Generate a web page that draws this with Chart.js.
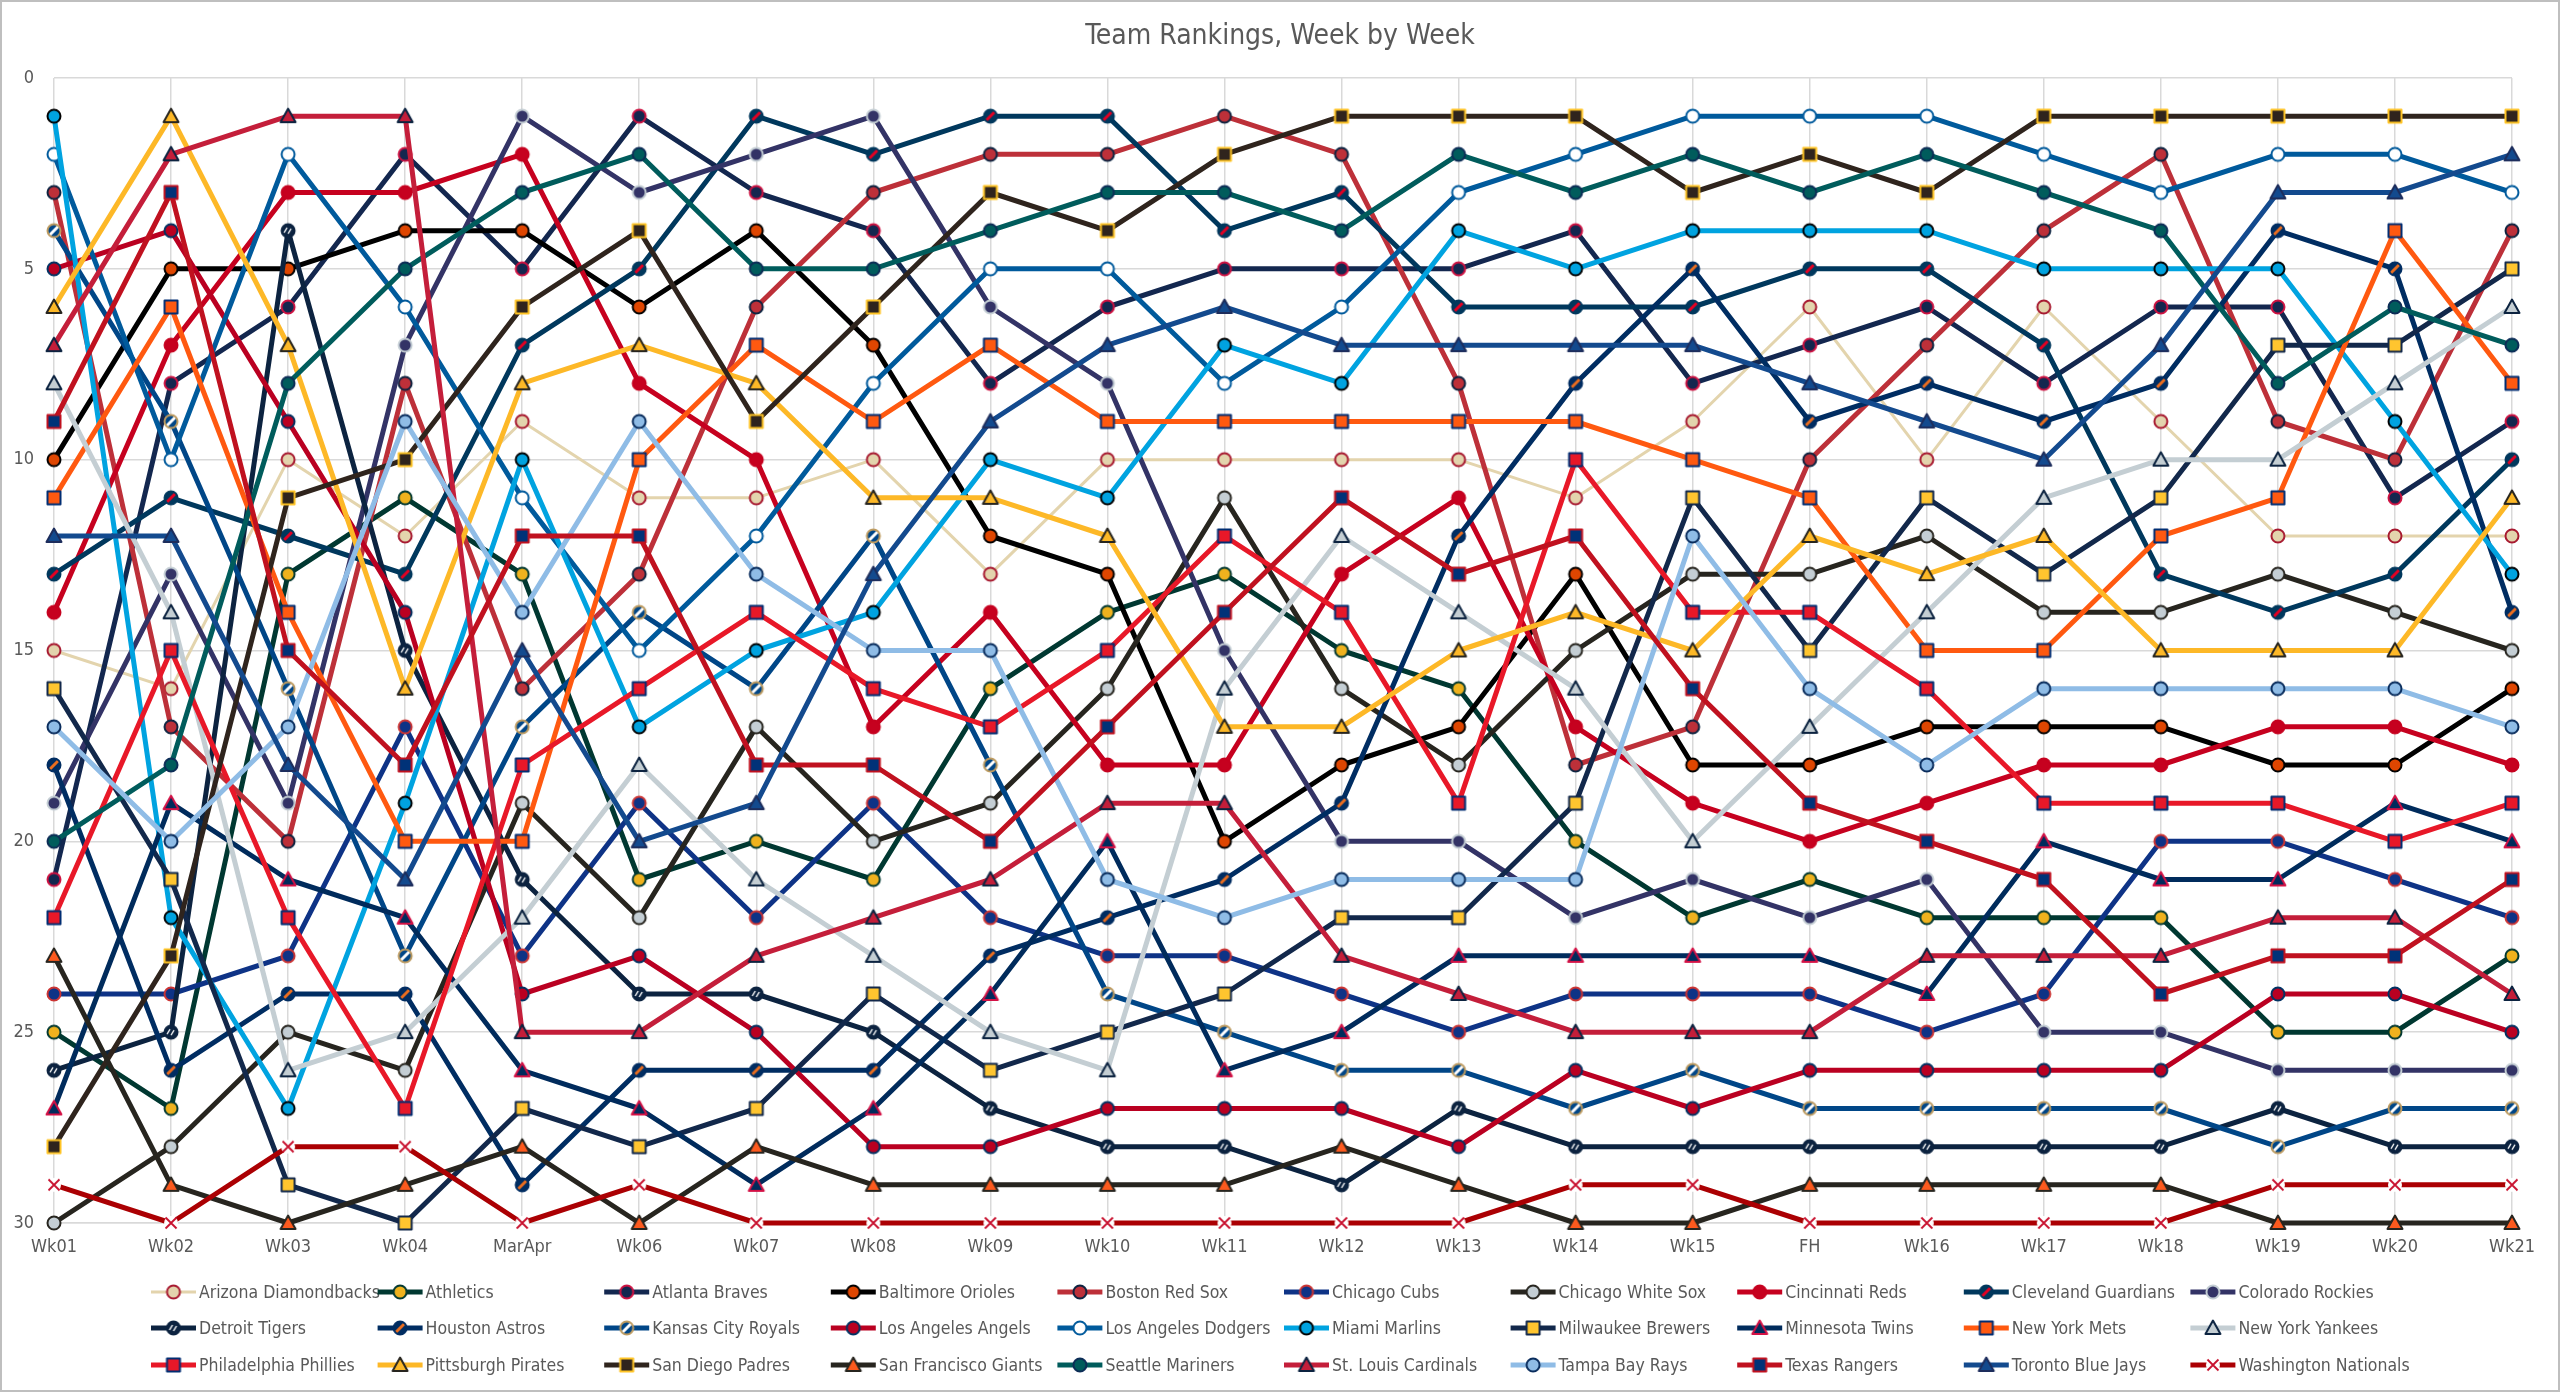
<!DOCTYPE html>
<html>
<head>
<meta charset="utf-8">
<script src="https://cdn.jsdelivr.net/npm/chart.js@4.4.1/dist/chart.umd.min.js"></script>
<style>
html,body{margin:0;padding:0;background:#ffffff;}
canvas{display:block;}
</style>
</head>
<body>
<canvas id="c" width="2560" height="1392"></canvas>
<script>
// ---------- DATA ----------
const weekLabels = ["Wk01","Wk02","Wk03","Wk04","MarApr","Wk06","Wk07","Wk08","Wk09","Wk10","Wk11","Wk12","Wk13","Wk14","Wk15","FH","Wk16","Wk17","Wk18","Wk19","Wk20","Wk21"];
const yTicks = [0,5,10,15,20,25,30];

const teamNames = ["Arizona Diamondbacks","Athletics","Atlanta Braves","Baltimore Orioles","Boston Red Sox","Chicago Cubs","Chicago White Sox","Cincinnati Reds","Cleveland Guardians","Colorado Rockies","Detroit Tigers","Houston Astros","Kansas City Royals","Los Angeles Angels","Los Angeles Dodgers","Miami Marlins","Milwaukee Brewers","Minnesota Twins","New York Mets","New York Yankees","Philadelphia Phillies","Pittsburgh Pirates","San Diego Padres","San Francisco Giants","Seattle Mariners","St. Louis Cardinals","Tampa Bay Rays","Texas Rangers","Toronto Blue Jays","Washington Nationals"];

const arizonaDiamondbacks = [15,16,10,12,9,11,11,10,13,10,10,10,10,11,9,6,10,6,9,12,12,12];
const athletics           = [25,27,13,11,13,21,20,21,16,14,13,15,16,20,22,21,22,22,22,25,25,23];
const atlantaBraves       = [21,8,6,2,5,1,3,4,8,6,5,5,5,4,8,7,6,8,6,6,11,9];
const baltimoreOrioles    = [10,5,5,4,4,6,4,7,12,13,20,18,17,13,18,18,17,17,17,18,18,16];
const bostonRedSox        = [3,17,20,8,16,13,6,3,2,2,1,2,8,18,17,10,7,4,2,9,10,4];
const chicagoCubs         = [24,24,23,17,23,19,22,19,22,23,23,24,25,24,24,24,25,24,20,20,21,22];
const chicagoWhiteSox     = [30,28,25,26,19,22,17,20,19,16,11,16,18,15,13,13,12,14,14,13,14,15];
const cincinnatiReds      = [14,7,3,3,2,8,10,17,14,18,18,13,11,17,19,20,19,18,18,17,17,18];
const clevelandGuardians  = [13,11,12,13,7,5,1,2,1,1,4,3,6,6,6,5,5,7,13,14,13,10];
const coloradoRockies     = [19,13,19,7,1,3,2,1,6,8,15,20,20,22,21,22,21,25,25,26,26,26];
const detroitTigers       = [26,25,4,15,21,24,24,25,27,28,28,29,27,28,28,28,28,28,28,27,28,28];
const houstonAstros       = [18,26,24,24,29,26,26,26,23,22,21,19,12,8,5,9,8,9,8,4,5,14];
const kansasCityRoyals    = [4,9,16,23,17,14,16,12,18,24,25,26,26,27,26,27,27,27,27,28,27,27];
const losAngelesAngels    = [5,4,9,14,24,23,25,28,28,27,27,27,28,26,27,26,26,26,26,24,24,25];
const losAngelesDodgers   = [2,10,2,6,11,15,12,8,5,5,8,6,3,2,1,1,1,2,3,2,2,3];
const miamiMarlins        = [1,22,27,19,10,17,15,14,10,11,7,8,4,5,4,4,4,5,5,5,9,13];
const milwaukeeBrewers    = [16,21,29,30,27,28,27,24,26,25,24,22,22,19,11,15,11,13,11,7,7,5];
const minnesotaTwins      = [27,19,21,22,26,27,29,27,24,20,26,25,23,23,23,23,24,20,21,21,19,20];
const newYorkMets         = [11,6,14,20,20,10,7,9,7,9,9,9,9,9,10,11,15,15,12,11,4,8];
const newYorkYankees      = [8,14,26,25,22,18,21,23,25,26,16,12,14,16,20,17,14,11,10,10,8,6];
const philadelphiaPhillies= [22,15,22,27,18,16,14,16,17,15,12,14,19,10,14,14,16,19,19,19,20,19];
const pittsburghPirates   = [6,1,7,16,8,7,8,11,11,12,17,17,15,14,15,12,13,12,15,15,15,11];
const sanDiegoPadres      = [28,23,11,10,6,4,9,6,3,4,2,1,1,1,3,2,3,1,1,1,1,1];
const sanFranciscoGiants  = [23,29,30,29,28,30,28,29,29,29,29,28,29,30,30,29,29,29,29,30,30,30];
const seattleMariners     = [20,18,8,5,3,2,5,5,4,3,3,4,2,3,2,3,2,3,4,8,6,7];
const stLouisCardinals    = [7,2,1,1,25,25,23,22,21,19,19,23,24,25,25,25,23,23,23,22,22,24];
const tampaBayRays        = [17,20,17,9,14,9,13,15,15,21,22,21,21,21,12,16,18,16,16,16,16,17];
const texasRangers        = [9,3,15,18,12,12,18,18,20,17,14,11,13,12,16,19,20,21,24,23,23,21];
const torontoBlueJays     = [12,12,18,21,15,20,19,13,9,7,6,7,7,7,7,8,9,10,7,3,3,2];
const washingtonNationals = [29,30,28,28,30,29,30,30,30,30,30,30,30,29,29,30,30,30,30,29,29,29];

const teamValues = [arizonaDiamondbacks,athletics,atlantaBraves,baltimoreOrioles,bostonRedSox,chicagoCubs,chicagoWhiteSox,cincinnatiReds,clevelandGuardians,coloradoRockies,detroitTigers,houstonAstros,kansasCityRoyals,losAngelesAngels,losAngelesDodgers,miamiMarlins,milwaukeeBrewers,minnesotaTwins,newYorkMets,newYorkYankees,philadelphiaPhillies,pittsburghPirates,sanDiegoPadres,sanFranciscoGiants,seattleMariners,stLouisCardinals,tampaBayRays,texasRangers,torontoBlueJays,washingtonNationals];

// ---------- STYLES ----------
// [lineColor, shape, fill, stroke, accent]
const teamStyles = [
  ['#E3D4AD','circle','#E3D4AD','#A71930',null],
  ['#003831','circle','#EFB21E','#003831',null],
  ['#13274F','circle','#13274F','#CE1141',null],
  ['#000000','circle','#DF4601','#000000',null],
  ['#BD3039','circle','#BD3039','#0C2340',null],
  ['#0E3386','circle','#0E3386','#CC3433',null],
  ['#27251F','circle','#C4CED4','#27251F',null],
  ['#C6011F','circle','#C6011F','#C6011F',null],
  ['#00385D','circle','#00385D','#00385D','slash:#E50022'],
  ['#333366','circle','#333366','#C4CED4',null],
  ['#0C2340','circle','#0C2340','#0C2340','double:#FFFFFF'],
  ['#002D62','circle','#002D62','#002D62','slash:#EB6E1F'],
  ['#004687','circle','#004687','#BD9B60','slash:#FFFFFF'],
  ['#BA0021','circle','#BA0021','#003263',null],
  ['#005A9C','circle','#FFFFFF','#005A9C',null],
  ['#00A3E0','circle','#00A3E0','#000000',null],
  ['#12284B','square','#FFC52F','#12284B',null],
  ['#002B5C','triangle','#002B5C','#D31145',null],
  ['#FF5910','square','#FF5910','#002D72',null],
  ['#C4CED3','triangle','#C4CED3','#0C2340',null],
  ['#E81828','square','#E81828','#002D72',null],
  ['#FDB827','triangle','#FDB827','#27251F',null],
  ['#2F241D','square','#2F241D','#FFC425',null],
  ['#27251F','triangle','#FD5A1E','#27251F',null],
  ['#005C5C','circle','#005C5C','#0C2C56',null],
  ['#C41E3A','triangle','#C41E3A','#0C2340',null],
  ['#8FBCE6','circle','#8FBCE6','#092C5C',null],
  ['#C0111F','square','#003278','#C0111F',null],
  ['#134A8E','triangle','#134A8E','#1D2D5C',null],
  ['#AB0003','cross','#FFFFFF','#C8102E',null]
];

const FONT = "'Liberation Sans Narrow','DejaVu Sans Condensed','Roboto Condensed','Liberation Sans',sans-serif";
const TEXT_COLOR = '#595959';
const GRID_COLOR = '#D9D9D9';

function makeMarker(shape, fill, stroke, accent){
  const s = 20, m = s/2;
  const c = document.createElement('canvas');
  c.width = s; c.height = s;
  const g = c.getContext('2d');
  g.lineWidth = 2; g.fillStyle = fill; g.strokeStyle = stroke;
  g.lineJoin = 'round';
  if (shape === 'circle') {
    g.beginPath(); g.arc(m, m, 6.5, 0, Math.PI*2); g.fill();
    if (accent) {
      const [kind, col] = accent.split(':');
      g.save();
      g.beginPath(); g.arc(m, m, 6.5, 0, Math.PI*2); g.clip();
      g.strokeStyle = col;
      if (kind === 'double') {
        g.lineWidth = 1.4;
        g.beginPath(); g.moveTo(m-4, m+2); g.lineTo(m-1, m-3); g.stroke();
        g.beginPath(); g.moveTo(m, m+3); g.lineTo(m+3, m-2); g.stroke();
      } else {
        g.lineWidth = 3;
        g.beginPath(); g.moveTo(m-6, m+6); g.lineTo(m+6, m-6); g.stroke();
      }
      g.restore();
    }
    g.beginPath(); g.arc(m, m, 6.5, 0, Math.PI*2); g.stroke();
  } else if (shape === 'square') {
    g.beginPath(); g.rect(m-6.5, m-6.5, 13, 13); g.fill(); g.stroke();
  } else if (shape === 'triangle') {
    g.beginPath(); g.moveTo(m, m-7.5); g.lineTo(m+7.5, m+6); g.lineTo(m-7.5, m+6); g.closePath();
    g.fill(); g.stroke();
  } else if (shape === 'cross') {
    g.beginPath(); g.arc(m, m, 7, 0, Math.PI*2); g.fillStyle = '#FFFFFF'; g.fill();
    g.lineWidth = 1.8;
    g.beginPath(); g.moveTo(m-5.5, m-5.5); g.lineTo(m+5.5, m+5.5);
    g.moveTo(m+5.5, m-5.5); g.lineTo(m-5.5, m+5.5); g.stroke();
  }
  return c;
}

const datasets = teamNames.map((name, i) => {
  const st = teamStyles[i];
  const marker = makeMarker(st[1], st[2], st[3], st[4]);
  return {
    label: name,
    data: teamValues[i],
    borderColor: st[0],
    backgroundColor: st[0],
    borderWidth: i === 0 ? 3 : 5,
    borderJoinStyle: 'round',
    borderCapStyle: 'round',
    pointStyle: marker,
    pointRadius: 7,
    pointHoverRadius: 7,
    tension: 0,
    fill: false,
    clip: false,
    yAxisID: 'y',
    order: teamNames.length - i
  };
});

const frameAndLegend = {
  id: 'frameAndLegend',
  beforeDraw(chart){
    const ctx = chart.ctx;
    ctx.save();
    ctx.fillStyle = '#FFFFFF';
    ctx.fillRect(0, 0, chart.width, chart.height);
    ctx.restore();
  },
  afterDraw(chart){
    const ctx = chart.ctx;
    ctx.save();
    ctx.strokeStyle = '#BFBFBF';
    ctx.lineWidth = 2;
    ctx.strokeRect(1, 1, chart.width - 2, chart.height - 2);
    const cols = 10, colW = 226.6, x0 = 151, rowY = [1292, 1328, 1365];
    ctx.font = '17.5px ' + FONT;
    ctx.textBaseline = 'middle';
    ctx.textAlign = 'left';
    chart.data.datasets.forEach((ds, i) => {
      const r = Math.floor(i / cols), c = i % cols;
      const x = x0 + c * colW, y = rowY[r];
      ctx.strokeStyle = ds.borderColor;
      ctx.lineWidth = ds.borderWidth;
      ctx.lineCap = 'butt';
      ctx.beginPath(); ctx.moveTo(x, y); ctx.lineTo(x + 45, y); ctx.stroke();
      const img = ds.pointStyle;
      ctx.drawImage(img, x + 22.5 - img.width/2, y - img.height/2);
      ctx.fillStyle = TEXT_COLOR;
      ctx.fillText(ds.label, x + 48, y + 1);
    });
    ctx.restore();
  }
};

new Chart(document.getElementById('c'), {
  type: 'line',
  data: { labels: weekLabels, datasets: datasets },
  options: {
    responsive: false,
    devicePixelRatio: 1,
    animation: false,
    events: [],
    layout: { padding: { left: 8, right: 8, top: 8, bottom: 130 } },
    plugins: {
      legend: { display: false },
      tooltip: { enabled: false },
      title: {
        display: true,
        text: 'Team Rankings, Week by Week',
        color: TEXT_COLOR,
        font: { family: FONT, size: 28, weight: 'normal' },
        padding: { top: 12, bottom: 24.4 }
      }
    },
    scales: {
      x: {
        type: 'category',
        offset: false,
        grid: { color: GRID_COLOR, lineWidth: 1.5, drawTicks: false },
        border: { color: GRID_COLOR, width: 1.5 },
        ticks: { color: TEXT_COLOR, font: { family: FONT, size: 18 }, padding: 14, maxRotation: 0, autoSkip: false },
        afterFit(scale){ scale.height = 39; }
      },
      y: {
        position: 'left',
        min: 0, max: 30, reverse: true,
        afterBuildTicks(scale){ scale.ticks = yTicks.map(v => ({ value: v })); },
        grid: { color: GRID_COLOR, lineWidth: 1.5, drawTicks: false },
        border: { display: false },
        ticks: { color: TEXT_COLOR, font: { family: FONT, size: 18 }, padding: 20 },
        afterFit(scale){ scale.width = 46; }
      },
      yRightSpace: {
        position: 'right',
        min: 0, max: 30, reverse: true,
        grid: { display: false, drawTicks: false },
        border: { display: false },
        ticks: { display: false },
        afterFit(scale){ scale.width = 40; }
      }
    }
  },
  plugins: [frameAndLegend]
});
</script>
</body>
</html>
